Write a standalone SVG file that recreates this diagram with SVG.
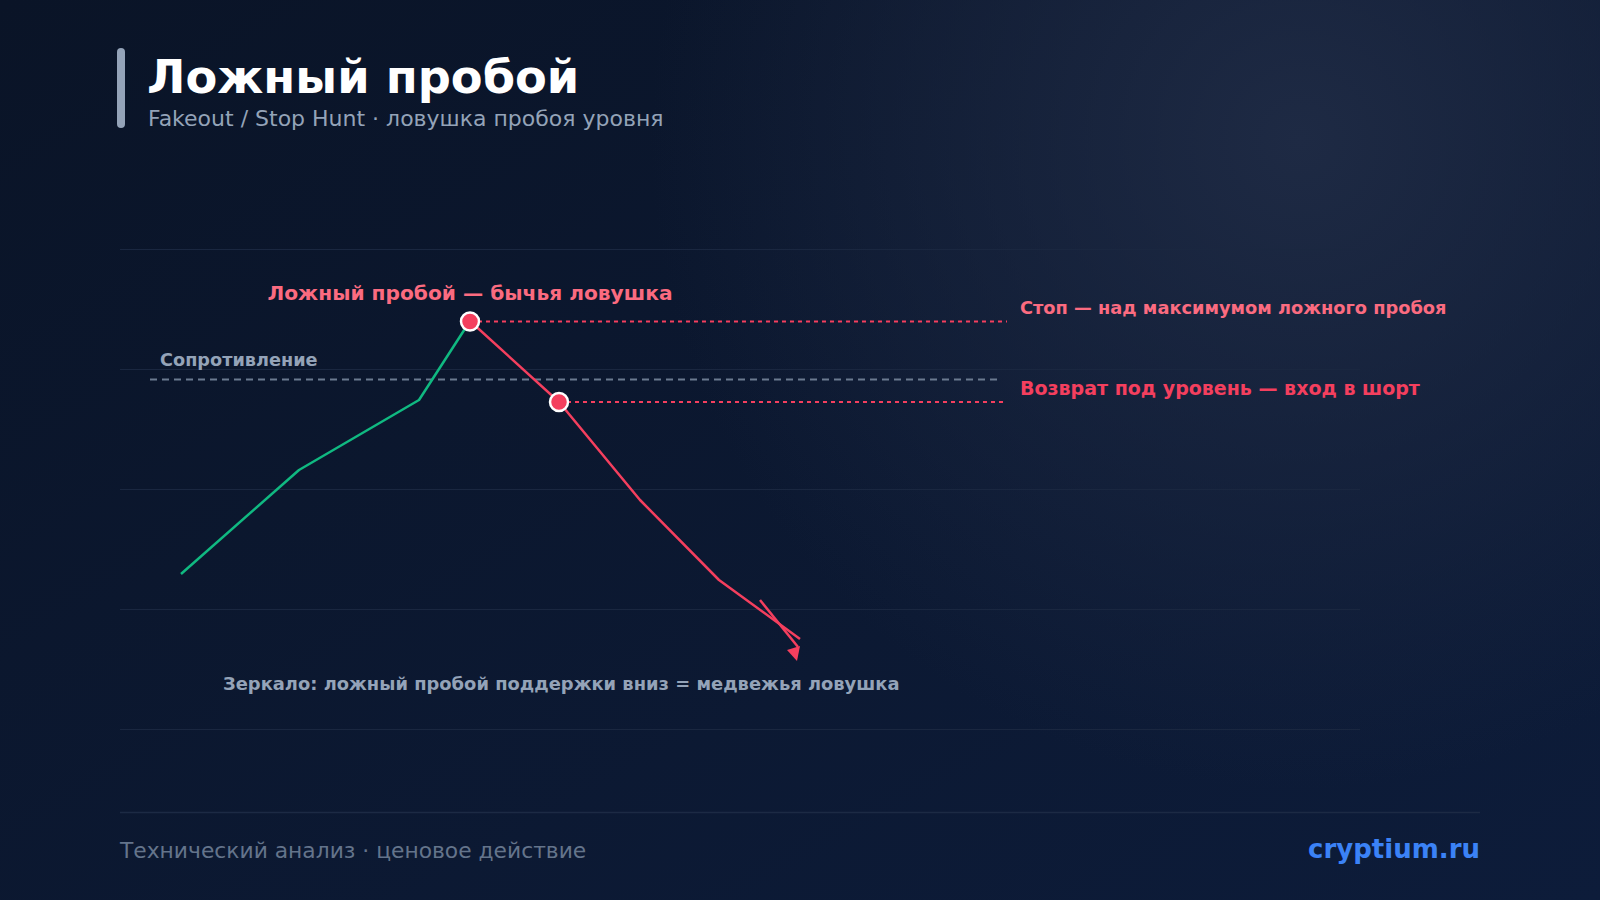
<svg xmlns="http://www.w3.org/2000/svg" width="1600" height="900" viewBox="0 0 1600 900">
<defs>
<linearGradient id="bg" x1="0" y1="0" x2="1" y2="1">
<stop offset="0" stop-color="#0a1427"/>
<stop offset="1" stop-color="#0d1c3a"/>
</linearGradient>
<radialGradient id="glow" cx="1300" cy="140" r="650" gradientUnits="userSpaceOnUse">
<stop offset="0" stop-color="#1f2b45" stop-opacity="0.95"/>
<stop offset="1" stop-color="#1f2b45" stop-opacity="0"/>
</radialGradient>
<style>
.t{font-family:"DejaVu Sans","Noto Sans",sans-serif}
.b{font-weight:bold}
.grid{stroke:#1a2740;stroke-width:1}
.dot{stroke:#f43f5e;stroke-width:2;stroke-dasharray:4 4;fill:none}
.pt{fill:#f43f5e;stroke:#ffffff;stroke-width:2.5}
</style>
</defs>
<rect width="1600" height="900" fill="url(#bg)"/>
<rect width="1600" height="900" fill="url(#glow)"/>

<g id="header">
<rect x="117" y="48" width="8" height="80" rx="4" fill="#94a3b8"/>
<text class="t b" x="147" y="93" font-size="46.3" fill="#ffffff">Ложный пробой</text>
<text class="t" x="148" y="126" font-size="22" fill="#94a3b8">Fakeout / Stop Hunt · ловушка пробоя уровня</text>
</g>

<g id="grid">
<line class="grid" x1="120" y1="249.5" x2="1360" y2="249.5"/>
<line class="grid" x1="120" y1="369.5" x2="1360" y2="369.5"/>
<line class="grid" x1="120" y1="489.5" x2="1360" y2="489.5"/>
<line class="grid" x1="120" y1="609.5" x2="1360" y2="609.5"/>
<line class="grid" x1="120" y1="729.5" x2="1360" y2="729.5"/>
</g>

<g id="resistance">
<line x1="150" y1="379.5" x2="1000" y2="379.5" stroke="#6b7a90" stroke-width="1.8" stroke-dasharray="7 5"/>
<text class="t b" x="160" y="366" font-size="17.7" fill="#94a3b8">Сопротивление</text>
</g>

<g id="connectors">
<line class="dot" x1="470" y1="321.5" x2="1007" y2="321.5"/>
<line class="dot" x1="559" y1="402" x2="1007" y2="402"/>
<polyline points="181,574 299,470 419,400 470,321" fill="none" stroke="#10b981" stroke-width="2.5" stroke-linejoin="round"/>
<polyline points="470,321 559,402 640,500 719,580 800,639" fill="none" stroke="#f43f5e" stroke-width="2.5" stroke-linejoin="round"/>
<line x1="760" y1="600" x2="798" y2="647" stroke="#f43f5e" stroke-width="2.5"/>
<polygon points="787,650 800,646 797,661" fill="#f43f5e"/>
</g>

<g id="fake-high">
<circle class="pt" cx="470" cy="321.5" r="9"/>
<text class="t b" x="470" y="300" font-size="20.2" fill="#fb6b80" text-anchor="middle">Ложный пробой — бычья ловушка</text>
</g>

<g id="entry">
<circle class="pt" cx="559" cy="402" r="9"/>
</g>

<g id="stop-label">
<text class="t b" x="1020" y="314" font-size="17.8" fill="#fb6b80">Стоп — над максимумом ложного пробоя</text>
</g>

<g id="entry-label">
<text class="t b" x="1020" y="395" font-size="19" fill="#f43f5e">Возврат под уровень — вход в шорт</text>
</g>

<g id="mirror-note">
<text class="t b" x="223" y="690" font-size="17.9" fill="#94a3b8">Зеркало: ложный пробой поддержки вниз = медвежья ловушка</text>
</g>

<g id="footer">
<line x1="120" y1="812.5" x2="1480" y2="812.5" stroke="#1c2a44" stroke-width="1.5"/>
<text class="t" x="120" y="858" font-size="21.8" fill="#64748b">Технический анализ · ценовое действие</text>
<text class="t b" x="1480" y="858" font-size="26" fill="#3b82f6" text-anchor="end">cryptium.ru</text>
</g>
</svg>
